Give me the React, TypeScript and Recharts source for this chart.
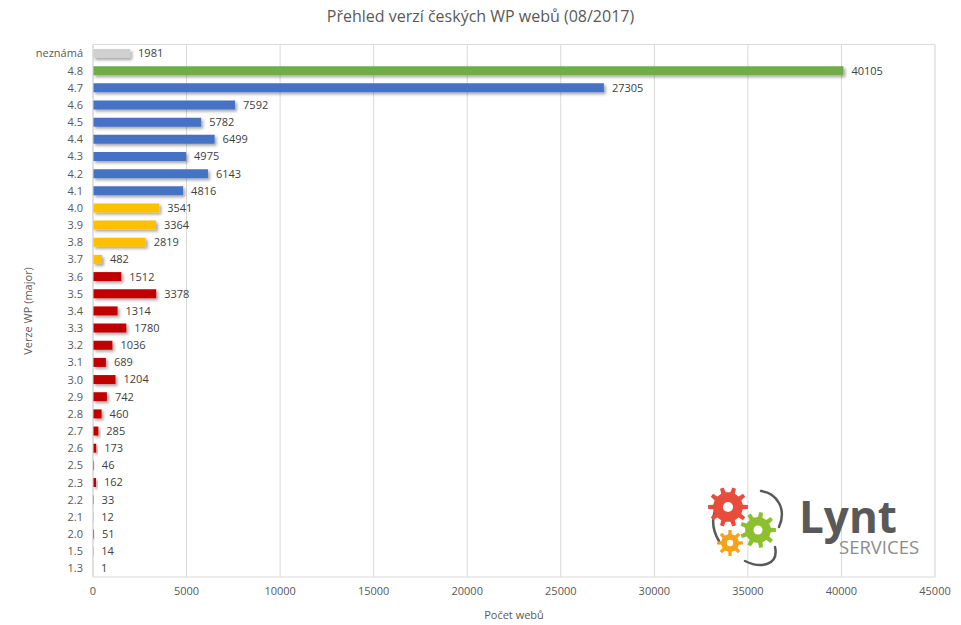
import React from 'react';
import { BarChart, Bar, XAxis, YAxis, Cell, LabelList, CartesianGrid } from 'recharts';

const versions = [
  'neznámá', '4.8', '4.7', '4.6', '4.5', '4.4', '4.3', '4.2', '4.1',
  '4.0', '3.9', '3.8', '3.7',
  '3.6', '3.5', '3.4', '3.3', '3.2', '3.1', '3.0',
  '2.9', '2.8', '2.7', '2.6', '2.5', '2.3', '2.2', '2.1', '2.0', '1.5', '1.3',
];
const sites = [
  1981, 40105, 27305, 7592, 5782, 6499, 4975, 6143, 4816,
  3541, 3364, 2819, 482,
  1512, 3378, 1314, 1780, 1036, 689, 1204,
  742, 460, 285, 173, 46, 162, 33, 12, 51, 14, 1,
];
const majorTicks = [0, 5000, 10000, 15000, 20000, 25000, 30000, 35000, 40000, 45000];
const minorTicks = majorTicks.slice(0, -1).flatMap((t) => [0, 1000, 2000, 3000, 4000].map((d) => t + d));

const colorFor = (v: string) => {
  if (v === 'neznámá') return '#d0d0d0';
  if (v === '4.8') return '#70ad47';
  if (v.startsWith('4.') && v !== '4.0') return '#4472c4';
  if (['4.0', '3.9', '3.8', '3.7'].includes(v)) return '#ffc000';
  return '#c00000';
};

const data = versions.map((name, i) => ({ name, value: sites[i] }));

const tickStyle = { fill: '#595959', fontSize: 11, fontFamily: 'Open Sans' };

const gearPath = (cx: number, cy: number, r: number, teeth: number, depth: number) => {
  const pts: string[] = [];
  const step = (Math.PI * 2) / teeth;
  for (let i = 0; i < teeth; i++) {
    const a = i * step;
    const seq = [
      [a - step * 0.25, r],
      [a - step * 0.15, r + depth],
      [a + step * 0.15, r + depth],
      [a + step * 0.25, r],
    ];
    seq.forEach(([ang, rad]) => pts.push(`${(cx + rad * Math.cos(ang)).toFixed(2)},${(cy + rad * Math.sin(ang)).toFixed(2)}`));
  }
  return `M${pts.join('L')}Z`;
};

// logo drawn in its own svg, top-left at (695, 477)
const Logo = () => (
  <svg width={240} height={92} style={{ position: 'absolute', left: 695, top: 477 }}>
    <path d="M 36 18 C 20 22, 12 44, 24 64 M 66 14 C 82 16, 92 32, 84 50 M 50 84 C 66 92, 84 88, 80 70"
      stroke="#595959" strokeWidth={2.5} fill="none" strokeLinecap="round" />
    <path d={gearPath(33, 30, 15, 10, 5)} fill="#e84c3d" />
    <circle cx={33} cy={30} r={5} fill="#fff" />
    <path d={gearPath(63, 53, 13, 9, 5)} fill="#8dc02e" />
    <circle cx={63} cy={53} r={4.5} fill="#fff" />
    <path d={gearPath(35, 66, 9, 8, 4)} fill="#f7a11a" />
    <circle cx={35} cy={66} r={3.2} fill="#fff" />
    <text x={104} y={56} fontFamily="Open Sans" fontWeight={700} fontSize={44} fill="#595959">Lynt</text>
    <text x={144} y={77} fontFamily="Open Sans" fontSize={18.5} fill="#8c8c8c">SERVICES</text>
  </svg>
);

export default function App() {
  return (
    <div style={{ position: 'absolute', left: 0, top: 0, width: 961, height: 625, background: '#fff' }}>
      <svg width={0} height={0} style={{ position: 'absolute' }}>
        <defs>
          <filter id="barShadow" x="-20%" y="-50%" width="160%" height="250%">
            <feDropShadow dx={2} dy={2} stdDeviation={1.4} floodColor="#000" floodOpacity={0.35} />
          </filter>
        </defs>
      </svg>
      <div style={{ position: 'absolute', top: 5, left: 0, width: 961, textAlign: 'center', fontFamily: 'Open Sans', fontSize: 16, color: '#595959' }}>
        Přehled verzí českých WP webů (08/2017)
      </div>
      <BarChart width={961} height={625} data={data} layout="vertical" barSize={9}
        margin={{ top: 45, right: 26, bottom: 0, left: 0 }}>
        <CartesianGrid xAxisId="minor" horizontal={false} stroke="#efefef" />
        <CartesianGrid horizontal={false} stroke="#d9d9d9" />
        <XAxis xAxisId="minor" type="number" domain={[0, 45000]} ticks={minorTicks} interval={0} hide />
        <XAxis type="number" domain={[0, 45000]} ticks={majorTicks} interval={0} height={48}
          tick={tickStyle} tickLine={false} tickSize={0} tickMargin={10}
          axisLine={{ stroke: '#d9d9d9' }}
          label={{ value: 'Počet webů', position: 'insideBottom', offset: 6, fill: '#595959', fontSize: 11, fontFamily: 'Open Sans' }} />
        <YAxis type="category" dataKey="name" width={93} interval={0}
          tick={tickStyle} tickLine={false} tickSize={0} tickMargin={10}
          axisLine={{ stroke: '#d9d9d9' }}
          label={{ value: 'Verze WP (major)', angle: -90, position: 'insideLeft', offset: 28, textAnchor: 'middle', fill: '#595959', fontSize: 11, fontFamily: 'Open Sans' }} />
        <Bar dataKey="value" isAnimationActive={false} style={{ filter: 'url(#barShadow)' }}>
          {data.map((d) => (
            <Cell key={d.name} fill={colorFor(d.name)} />
          ))}
          <LabelList dataKey="value" position="right" offset={8} fill="#404040" fontSize={11} fontFamily="Open Sans" />
        </Bar>
      </BarChart>
      <div style={{ position: 'absolute', left: 93, top: 44, width: 842, height: 1, background: '#d9d9d9' }} />
      <Logo />
    </div>
  );
}
